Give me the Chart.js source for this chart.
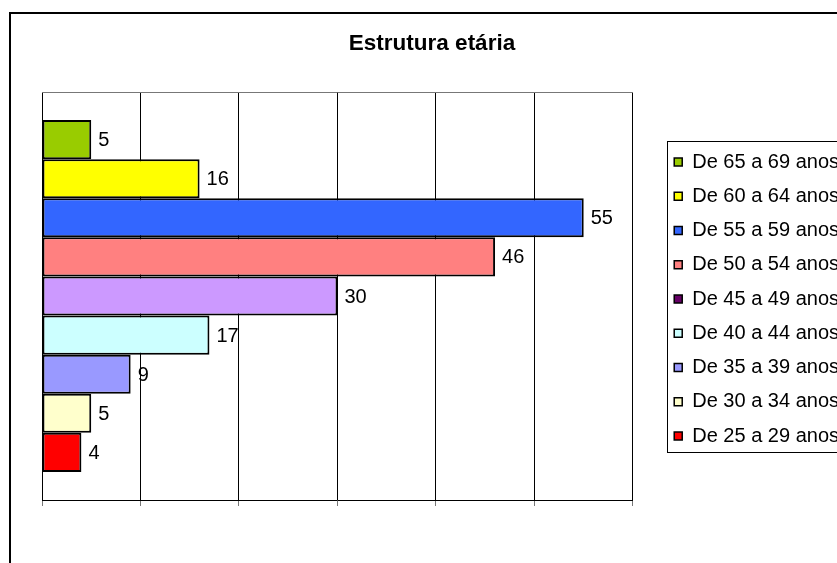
<!DOCTYPE html>
<html>
<head>
<meta charset="utf-8">
<title>Estrutura etária</title>
<script src="https://cdn.jsdelivr.net/npm/chart.js@4.4.1/dist/chart.umd.min.js"></script>
<style>
    html, body { margin: 0; padding: 0; background: #fff; overflow: hidden; }
    #frame {
        position: absolute; left: 9px; top: 12px; width: 900px; height: 600px;
        border-left: 2px solid #000; border-top: 2px solid #000;
    }
    #box {
        position: absolute; left: 11px; top: 14px; width: 900px; height: 549px;
    }
</style>
</head>
<body>
<div id="frame"></div>
<div id="box"><canvas id="chartjs-bar"></canvas></div>
<script>
// Dados do gráfico
var categories = ["Total"];
var seriesNames = ["De 65 a 69 anos", "De 60 a 64 anos", "De 55 a 59 anos", "De 50 a 54 anos",
    "De 45 a 49 anos", "De 40 a 44 anos", "De 35 a 39 anos", "De 30 a 34 anos", "De 25 a 29 anos"];
var seriesValues = [5, 16, 55, 46, 30, 17, 9, 5, 4];
var barColors = ["#99CC00", "#FFFF00", "#3366FF", "#FF8080", "#CC99FF", "#CCFFFF", "#9999FF", "#FFFFCC", "#FF0000"];
var legendColors = ["#99CC00", "#FFFF00", "#3366FF", "#FF8080", "#660066", "#CCFFFF", "#9999FF", "#FFFFCC", "#FF0000"];
var xTicks = [0, 10, 20, 30, 40, 50, 60];

document.addEventListener("DOMContentLoaded", function() {
    var ctx = document.getElementById("chartjs-bar");
    if (!ctx) return;

    Chart.defaults.font.family = "'Liberation Sans', Arial, sans-serif";
    Chart.defaults.color = "#000";

    // Uma série por faixa etária
    var datasets = seriesNames.map(function(name, i) {
        return {
            label: name,
            data: [seriesValues[i]],
            backgroundColor: barColors[i],
            borderColor: "#000",
            borderWidth: 2,
            borderSkipped: false
        };
    });

    // Rótulos com os valores ao lado das barras
    var valueLabels = {
        id: "valueLabels",
        afterDatasetsDraw: function(chart) {
            var c = chart.ctx;
            c.save();
            c.font = "20px 'Liberation Sans', Arial, sans-serif";
            c.fillStyle = "#000";
            c.textAlign = "left";
            c.textBaseline = "middle";
            chart.data.datasets.forEach(function(ds, i) {
                chart.getDatasetMeta(i).data.forEach(function(bar, j) {
                    c.fillText(String(ds.data[j]), bar.x + 7, bar.y + 1);
                });
            });
            c.restore();
        }
    };

    // Afasta a legenda da área do gráfico
    var legendShift = {
        id: "legendShift",
        afterLayout: function(chart) {
            var lg = chart.legend;
            if (!lg) return;
            lg.left += 27;
            lg.right += 27;
            lg.top += 3;
            lg.bottom += 3;
        }
    };

    // Moldura da legenda
    var legendFrame = {
        id: "legendFrame",
        afterDraw: function(chart) {
            var boxes = chart.legend && chart.legend.legendHitBoxes;
            if (!boxes || !boxes.length) return;
            var first = boxes[0], last = boxes[boxes.length - 1];
            var c = chart.ctx;
            c.save();
            c.strokeStyle = "#000";
            c.lineWidth = 1;
            var left = Math.round(first.left - 7) + 0.5;
            var top = Math.round(first.top - 11) + 0.5;
            var bottom = Math.round(last.top + last.height + 6) + 0.5;
            c.strokeRect(left, top, chart.width - left + 10, bottom - top);
            c.restore();
        }
    };

    var options = {
        indexAxis: "y",
        responsive: true,
        maintainAspectRatio: false,
        animation: false,
        layout: {
            padding: { left: 31, right: 89, top: 0, bottom: 57 }
        },
        datasets: {
            bar: { categoryPercentage: 0.8625, barPercentage: 1 }
        },
        scales: {
            x: {
                min: xTicks[0],
                max: xTicks[xTicks.length - 1],
                afterBuildTicks: function(scale) {
                    scale.ticks = xTicks.map(function(v) { return { value: v }; });
                },
                ticks: { display: false },
                grid: { color: "#000", lineWidth: 1, tickLength: 6, tickColor: "#777" },
                border: { display: true, color: "#000", width: 1 }
            },
            xTop: {
                type: "linear",
                position: "top",
                display: true,
                ticks: { display: false },
                grid: { drawOnChartArea: false, drawTicks: false },
                border: { display: true, color: "#777", width: 1 }
            },
            y: {
                display: false
            }
        },
        plugins: {
            title: {
                display: true,
                text: "Estrutura etária",
                font: { size: 22.5, weight: "bold" },
                color: "#000",
                padding: { top: 16.5, bottom: 34.5 }
            },
            legend: {
                display: true,
                position: "right",
                fullSize: false,
                labels: {
                    boxWidth: 8,
                    boxHeight: 8,
                    padding: 14.25,
                    font: { size: 20 },
                    color: "#000",
                    generateLabels: function(chart) {
                        return chart.data.datasets.map(function(ds, i) {
                            return {
                                text: ds.label,
                                fillStyle: legendColors[i],
                                strokeStyle: "#000",
                                lineWidth: 1.5,
                                hidden: false,
                                datasetIndex: i
                            };
                        });
                    }
                }
            },
            tooltip: { enabled: false }
        }
    };

    new Chart(ctx, {
        type: "bar",
        data: { labels: categories, datasets: datasets },
        options: options,
        plugins: [legendShift, valueLabels, legendFrame]
    });
});
</script>
</body>
</html>
